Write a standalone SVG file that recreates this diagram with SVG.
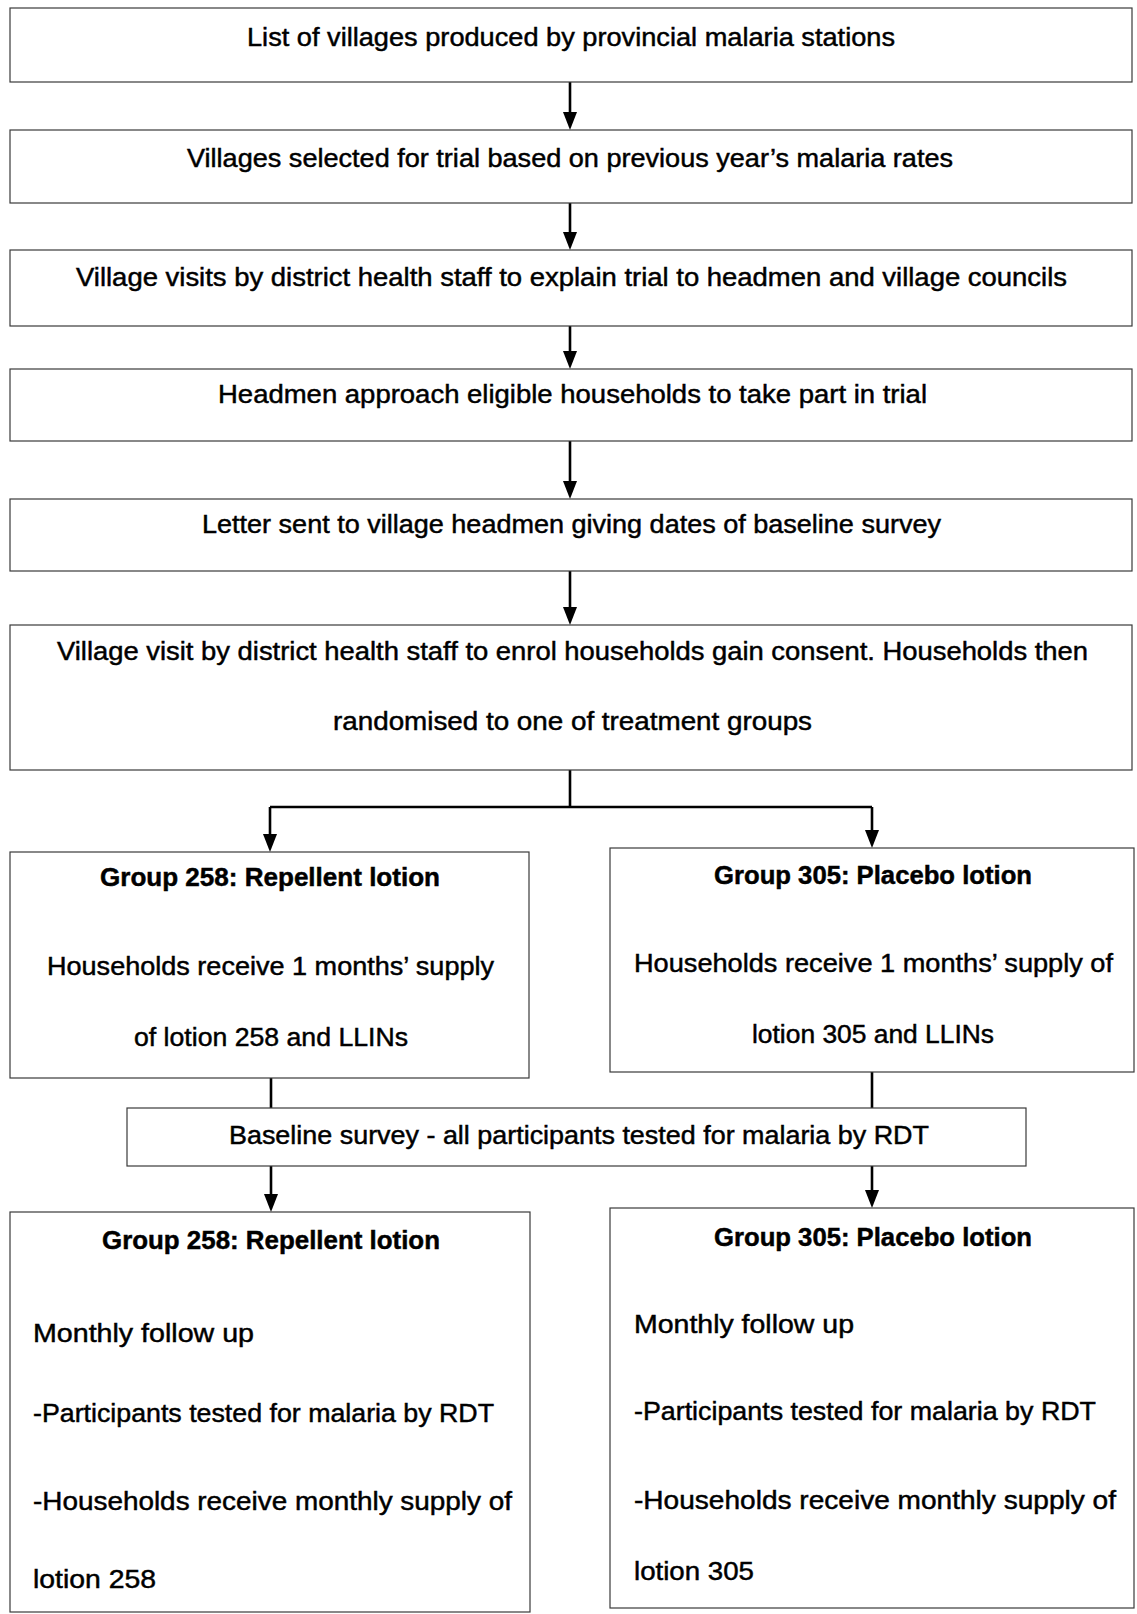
<svg xmlns="http://www.w3.org/2000/svg" width="1137" height="1614" viewBox="0 0 1137 1614">
<style>
.box{fill:#fff;stroke:#3a3a3a;stroke-width:1.2}
.t{font-family:"Liberation Sans",Arial,sans-serif;font-size:25px;fill:#000;stroke:#000;stroke-width:0.45}
.b{font-weight:bold}
.c{fill:none;stroke:#000;stroke-width:2.6}
</style>
<defs>
<marker id="ah" viewBox="0 0 18 14" refX="13" refY="7" markerWidth="18" markerHeight="14" markerUnits="userSpaceOnUse" orient="auto">
<path d="M0,0 L18,7 L0,14 z" fill="#000"/>
</marker>
</defs>
<rect width="1137" height="1614" fill="#fff"/>
<g id="connectors">
<path class="c" d="M570,82 V125" marker-end="url(#ah)"/>
<path class="c" d="M570,203 V245" marker-end="url(#ah)"/>
<path class="c" d="M570,326 V364" marker-end="url(#ah)"/>
<path class="c" d="M570,441 V494" marker-end="url(#ah)"/>
<path class="c" d="M570,571 V620" marker-end="url(#ah)"/>
<path class="c" d="M570,770 V807"/>
<path class="c" d="M270,807 H872"/>
<path class="c" d="M270,807 V847" marker-end="url(#ah)"/>
<path class="c" d="M872,807 V843" marker-end="url(#ah)"/>
<path class="c" d="M271,1078 V1108"/>
<path class="c" d="M872,1072 V1108"/>
<path class="c" d="M271,1166 V1207" marker-end="url(#ah)"/>
<path class="c" d="M872,1166 V1203" marker-end="url(#ah)"/>
</g>
<g id="n1"><rect class="box" x="10" y="8" width="1122" height="74"/>
<text class="t" x="247" y="46" textLength="648" lengthAdjust="spacingAndGlyphs">List of villages produced by provincial malaria stations</text></g>
<g id="n2"><rect class="box" x="10" y="130" width="1122" height="73"/>
<text class="t" x="187" y="167" textLength="766" lengthAdjust="spacingAndGlyphs">Villages selected for trial based on previous year’s malaria rates</text></g>
<g id="n3"><rect class="box" x="10" y="250" width="1122" height="76"/>
<text class="t" x="76" y="286" textLength="991" lengthAdjust="spacingAndGlyphs">Village visits by district health staff to explain trial to headmen and village councils</text></g>
<g id="n4"><rect class="box" x="10" y="369" width="1122" height="72"/>
<text class="t" x="218" y="403" textLength="709" lengthAdjust="spacingAndGlyphs">Headmen approach eligible households to take part in trial</text></g>
<g id="n5"><rect class="box" x="10" y="499" width="1122" height="72"/>
<text class="t" x="202" y="533" textLength="739" lengthAdjust="spacingAndGlyphs">Letter sent to village headmen giving dates of baseline survey</text></g>
<g id="n6"><rect class="box" x="10" y="625" width="1122" height="145"/>
<text class="t" x="57" y="660" textLength="1031" lengthAdjust="spacingAndGlyphs">Village visit by district health staff to enrol households gain consent. Households then</text>
<text class="t" x="333" y="730" textLength="479" lengthAdjust="spacingAndGlyphs">randomised to one of treatment groups</text></g>
<g id="n7"><rect class="box" x="10" y="852" width="519" height="226"/>
<text class="t b" x="100" y="886" textLength="340" lengthAdjust="spacingAndGlyphs">Group 258: Repellent lotion</text>
<text class="t" x="47" y="975" textLength="447" lengthAdjust="spacingAndGlyphs">Households receive 1 months’ supply</text>
<text class="t" x="134" y="1046" textLength="274" lengthAdjust="spacingAndGlyphs">of lotion 258 and LLINs</text></g>
<g id="n8"><rect class="box" x="610" y="848" width="524" height="224"/>
<text class="t b" x="714" y="884" textLength="318" lengthAdjust="spacingAndGlyphs">Group 305: Placebo lotion</text>
<text class="t" x="634" y="972" textLength="479" lengthAdjust="spacingAndGlyphs">Households receive 1 months’ supply of</text>
<text class="t" x="752" y="1043" textLength="242" lengthAdjust="spacingAndGlyphs">lotion 305 and LLINs</text></g>
<g id="n9"><rect class="box" x="127" y="1108" width="899" height="58"/>
<text class="t" x="229" y="1144" textLength="700" lengthAdjust="spacingAndGlyphs">Baseline survey - all participants tested for malaria by RDT</text></g>
<g id="n10"><rect class="box" x="10" y="1212" width="520" height="400"/>
<text class="t b" x="102" y="1249" textLength="338" lengthAdjust="spacingAndGlyphs">Group 258: Repellent lotion</text>
<text class="t" x="33" y="1342" textLength="221" lengthAdjust="spacingAndGlyphs">Monthly follow up</text>
<text class="t" x="33" y="1422" textLength="461" lengthAdjust="spacingAndGlyphs">-Participants tested for malaria by RDT</text>
<text class="t" x="33" y="1510" textLength="479" lengthAdjust="spacingAndGlyphs">-Households receive monthly supply of</text>
<text class="t" x="33" y="1588" textLength="123" lengthAdjust="spacingAndGlyphs">lotion 258</text></g>
<g id="n11"><rect class="box" x="610" y="1208" width="524" height="400"/>
<text class="t b" x="714" y="1246" textLength="318" lengthAdjust="spacingAndGlyphs">Group 305: Placebo lotion</text>
<text class="t" x="634" y="1333" textLength="220" lengthAdjust="spacingAndGlyphs">Monthly follow up</text>
<text class="t" x="634" y="1420" textLength="462" lengthAdjust="spacingAndGlyphs">-Participants tested for malaria by RDT</text>
<text class="t" x="634" y="1509" textLength="482" lengthAdjust="spacingAndGlyphs">-Households receive monthly supply of</text>
<text class="t" x="634" y="1580" textLength="120" lengthAdjust="spacingAndGlyphs">lotion 305</text></g>
</svg>
